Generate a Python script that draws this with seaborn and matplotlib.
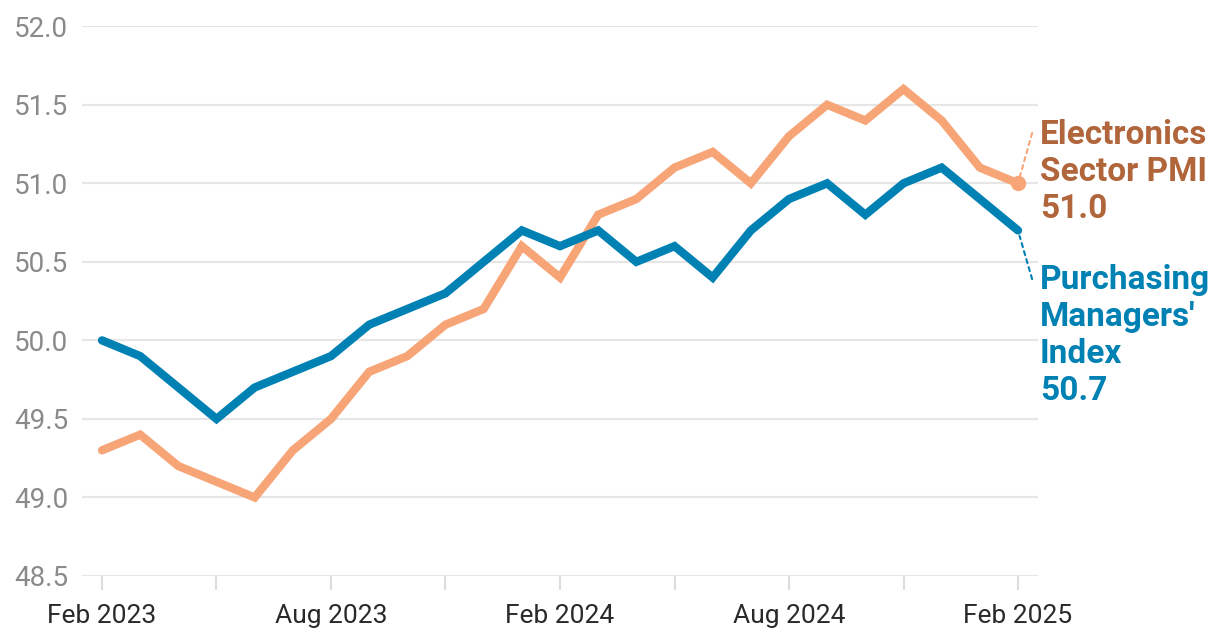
import matplotlib
matplotlib.use('Agg')
import matplotlib.pyplot as plt
import seaborn as sns
import pandas as pd

months = ['Feb 2023', 'Mar 2023', 'Apr 2023', 'May 2023', 'Jun 2023', 'Jul 2023',
          'Aug 2023', 'Sep 2023', 'Oct 2023', 'Nov 2023', 'Dec 2023', 'Jan 2024',
          'Feb 2024', 'Mar 2024', 'Apr 2024', 'May 2024', 'Jun 2024', 'Jul 2024',
          'Aug 2024', 'Sep 2024', 'Oct 2024', 'Nov 2024', 'Dec 2024', 'Jan 2025',
          'Feb 2025']
pmi = [50.0, 49.9, 49.7, 49.5, 49.7, 49.8, 49.9, 50.1, 50.2, 50.3, 50.5, 50.7,
       50.6, 50.7, 50.5, 50.6, 50.4, 50.7, 50.9, 51.0, 50.8, 51.0, 51.1, 50.9, 50.7]
electronics = [49.3, 49.4, 49.2, 49.1, 49.0, 49.3, 49.5, 49.8, 49.9, 50.1, 50.2, 50.6,
               50.4, 50.8, 50.9, 51.1, 51.2, 51.0, 51.3, 51.5, 51.4, 51.6, 51.4, 51.1, 51.0]
yticks = [48.5, 49.0, 49.5, 50.0, 50.5, 51.0, 51.5, 52.0]

BLUE = '#0081b4'
ORANGE = '#f7a577'
ORANGE_TEXT = '#b0653b'

sns.set_style('white')
plt.rcParams['font.family'] = ['Roboto', 'DejaVu Sans']

df = pd.DataFrame({'month': months, 'idx': range(len(months)),
                   'PMI': pmi, 'Electronics': electronics})

fig = plt.figure(figsize=(12.2, 6.4), dpi=100)
ax = fig.add_axes([82 / 1220, 0.1, (1038 - 82) / 1220, 0.859])

sns.lineplot(data=df, x='idx', y='Electronics', color=ORANGE, lw=6,
             solid_capstyle='round', solid_joinstyle='miter', ax=ax, zorder=3)
sns.lineplot(data=df, x='idx', y='PMI', color=BLUE, lw=6,
             solid_capstyle='round', solid_joinstyle='miter', ax=ax, zorder=4)

last = len(months) - 1
ax.plot(last, electronics[-1], 'o', color=ORANGE, ms=10, zorder=5)

ax.set_xlim(-0.524, last + 0.524)
ax.set_ylim(48.5, 52.0)
ax.set_yticks(yticks)
ax.set_yticklabels([f'{v:.1f}' for v in yticks], color='#8a8a8a', fontsize=20)
ax.set_xticks(range(0, len(months), 3))
ax.set_xticklabels([months[i] if i % 6 == 0 else '' for i in range(0, len(months), 3)],
                   fontsize=19, color='#2a2a2a')
ax.tick_params(axis='y', length=0, pad=10)
ax.tick_params(axis='x', bottom=True, length=10, width=1.5, color='#dddddd', pad=10,
               direction='out')
ax.grid(axis='y', color='#e6e6e6', lw=1.5)
ax.set_axisbelow(True)
for s in ax.spines.values():
    s.set_visible(False)
ax.set_xlabel('')
ax.set_ylabel('')

# end labels
ax.annotate('', xy=(last, electronics[-1]), xytext=(last + 0.37, 51.32),
            arrowprops=dict(arrowstyle='-', ls=(0, (2, 2)), color=ORANGE, lw=1.5,
                            shrinkA=0, shrinkB=5))
ax.annotate('', xy=(last, pmi[-1]), xytext=(last + 0.37, 50.39),
            arrowprops=dict(arrowstyle='-', ls=(0, (2, 2)), color=BLUE, lw=1.5,
                            shrinkA=0, shrinkB=4))
ax.text(last + 0.57, 51.41, 'Electronics\nSector PMI\n51.0', color=ORANGE_TEXT,
        fontsize=24, fontweight='bold', va='top', ha='left', linespacing=1.2,
        clip_on=False)
ax.text(last + 0.57, 50.485, "Purchasing\nManagers'\nIndex\n50.7", color=BLUE,
        fontsize=24, fontweight='bold', va='top', ha='left', linespacing=1.2,
        clip_on=False)

fig.savefig('out.png', dpi=100)
